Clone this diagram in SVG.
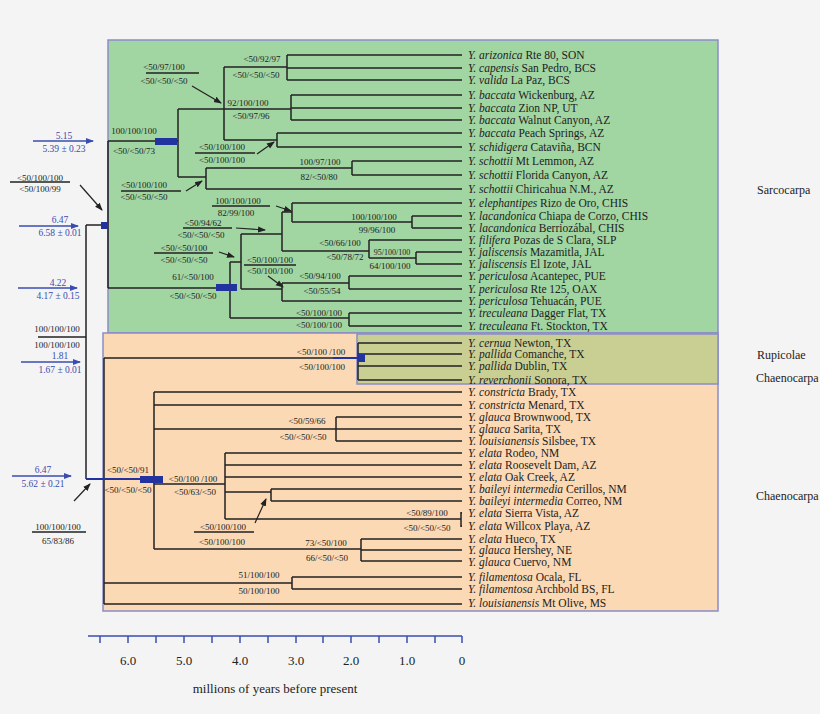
<svg xmlns="http://www.w3.org/2000/svg" width="820" height="714" viewBox="0 0 820 714">
<defs>
<style>
.t{font-family:"Liberation Serif",serif;font-size:11.5px;fill:#222}
.l{font-family:"Liberation Serif",serif;font-size:9px;fill:#222;text-anchor:middle}
.b{font-family:"Liberation Serif",serif;font-size:9.5px;fill:#3b4cb0;text-anchor:middle}
.g{font-family:"Liberation Serif",serif;font-size:13px;fill:#222}
.r{font-family:"Liberation Serif",serif;font-size:12px;fill:#222}
.e{fill:none;stroke:#222;stroke-width:1.5}
.u{stroke:#222;stroke-width:1.5}
.ar{stroke:#222;stroke-width:1.2;marker-end:url(#ak)}
.ba{stroke:#3b4cb0;stroke-width:1.3;marker-end:url(#ab)}
.bx{fill:#2233a0}
</style>
<marker id="ak" markerWidth="8" markerHeight="8" refX="7" refY="4" orient="auto" markerUnits="userSpaceOnUse"><path d="M0,1 L8,4 L0,7 Z" fill="#222"/></marker>
<marker id="ab" markerWidth="8" markerHeight="8" refX="7" refY="4" orient="auto" markerUnits="userSpaceOnUse"><path d="M0,1 L8,4 L0,7 Z" fill="#3b4cb0"/></marker>
</defs>
<rect width="820" height="714" fill="#f4f4f4"/>
<g id="boxes">
<rect x="108" y="40" width="610" height="293" fill="#a1d5a2" stroke="#8c8cc8" stroke-width="1.5"/>
<rect x="103" y="333" width="615" height="278" fill="#fbd9b5" stroke="#8c8cc8" stroke-width="1.5"/>
<rect x="357" y="334" width="361" height="50" fill="#c9cf93" stroke="#8c8cc8" stroke-width="1.5"/>
</g>
<g id="connectors">
<path class="e" d="M86,225 V479 M86,225 H108 M108,141 V288 M108,141 H178 M178,109 V177 M178,109 H291 M224,67 V140 M224,67 H287 M287,55 V80 M287,55 H462 M287,68 H462 M287,80 H462
M291,95 V120 M291,95 H462 M291,108 H462 M291,120 H462 M224,140 H277 M277,133 V147 M277,133 H462 M277,147 H462
M178,177 H206 M206,168 V189 M206,189 H462 M206,168 H352 M352,161 V175 M352,161 H462 M352,175 H462
M108,288 H230 M230,262 V318 M230,262 H241 M241,234 V289 M241,234 H282 M282,212 V251 M282,212 H292 M292,203 V222 M292,203 H462 M292,222 H412 M412,216 V228 M412,216 H462 M412,228 H462
M282,251 H369 M369,240 V258 M369,240 H462 M369,258 H416 M416,252 V264 M416,252 H462 M416,264 H462
M241,289 H282 M282,283 V301 M282,283 H349 M349,276 V289 M349,276 H462 M349,289 H462 M282,301 H462
M230,318 H349 M349,313 V326 M349,313 H462 M349,326 H462
M86,479 H104 M104,358 V604 M104,358 H358 M358,343 V380 M358,343 H462 M358,354 H462 M358,366 H462 M358,380 H462
M104,479 H154 M154,392 V549 M154,392 H462 M154,405 H462 M154,429 H336 M336,417 V441 M336,417 H462 M336,429 H462 M336,441 H462
M154,484 H225 M225,453 V519 M225,453 H462 M225,465 H462 M225,477 H462 M225,492 H271 M271,489 V501 M271,489 H462 M271,501 H462 M225,519 H461 M461,512 V527 M461,513 H462 M461,526 H462
M154,549 H361 M361,539 V561 M361,539 H462 M361,550 H462 M361,561 H462
M104,583 H292 M292,577 V589 M292,577 H462 M292,589 H462 M104,604 H462"/>
<path d="M86,479 H140 M333,358 H358" stroke="#2233a0" stroke-width="2"/>
<rect class="bx" x="155" y="138" width="22" height="7"/>
<rect class="bx" x="216" y="284" width="21" height="7"/>
<rect class="bx" x="101" y="222" width="7" height="7"/>
<rect class="bx" x="140" y="476" width="23" height="7"/>
<rect class="bx" x="358" y="354" width="7" height="8"/>
<path class="u" d="M146,73 H199 M195,153 H255 M121,191 H181 M212,206 H270 M183,228 H232 M154,253 H213 M244,265 H296 M10,182 H70 M38,337 H86 M32,532 H86 M194,532 H254"/>
<line class="ar" x1="192" y1="86" x2="221" y2="103"/>
<line class="ar" x1="257" y1="154" x2="274" y2="142"/>
<line class="ar" x1="186" y1="191" x2="202" y2="181"/>
<line class="ar" x1="276" y1="206" x2="291" y2="211"/>
<line class="ar" x1="236" y1="228" x2="265" y2="230"/>
<line class="ar" x1="219" y1="252" x2="234" y2="257"/>
<line class="ar" x1="268" y1="276" x2="283" y2="287"/>
<line class="ar" x1="80" y1="185" x2="102" y2="210"/>
<line class="ar" x1="74" y1="501" x2="90" y2="484"/>
<line class="ar" x1="255" y1="523" x2="266" y2="499"/>
<line class="ba" x1="33" y1="141" x2="93" y2="141"/>
<line class="ba" x1="19" y1="226" x2="78" y2="226"/>
<line class="ba" x1="18" y1="288" x2="77" y2="288"/>
<line class="ba" x1="21" y1="362" x2="80" y2="362"/>
<line class="ba" x1="12" y1="476" x2="71" y2="476"/>
</g>
<g id="labels">
<text class="l" x="262" y="62">&lt;50/92/97</text><text class="l" x="256" y="78">&lt;50/&lt;50/&lt;50</text>
<text class="l" x="164" y="70">&lt;50/97/100</text><text class="l" x="164" y="84">&lt;50/&lt;50/&lt;50</text>
<text class="l" x="248" y="106">92/100/100</text><text class="l" x="251" y="119">&lt;50/97/96</text>
<text class="l" x="134" y="134">100/100/100</text><text class="l" x="134" y="154">&lt;50/&lt;50/73</text>
<text class="l" x="222" y="150">&lt;50/100/100</text><text class="l" x="222" y="163">&lt;50/100/100</text>
<text class="l" x="320" y="165">100/97/100</text><text class="l" x="319" y="180">82/&lt;50/80</text>
<text class="l" x="144" y="188">&lt;50/100/100</text><text class="l" x="144" y="200">&lt;50/&lt;50/&lt;50</text>
<text class="l" x="238" y="204">100/100/100</text><text class="l" x="236" y="216">82/99/100</text>
<text class="l" x="374" y="220">100/100/100</text><text class="l" x="377" y="233">99/96/100</text>
<text class="l" x="203" y="226">&lt;50/94/62</text><text class="l" x="201" y="238">&lt;50/&lt;50/&lt;50</text>
<text class="l" x="184" y="251">&lt;50/&lt;50/100</text><text class="l" x="184" y="263">&lt;50/&lt;50/&lt;50</text>
<text class="l" x="340" y="246">&lt;50/66/100</text><text class="l" x="345" y="260">&lt;50/78/72</text>
<text class="l" x="392" y="255" style="font-size:8px">95/100/100</text><text class="l" x="390" y="269">64/100/100</text>
<text class="l" x="270" y="263">&lt;50/100/100</text><text class="l" x="270" y="274">&lt;50/100/100</text>
<text class="l" x="193" y="280">61/&lt;50/100</text><text class="l" x="193" y="299">&lt;50/&lt;50/&lt;50</text>
<text class="l" x="320" y="279">&lt;50/94/100</text><text class="l" x="322" y="294">&lt;50/55/54</text>
<text class="l" x="319" y="316">&lt;50/100/100</text><text class="l" x="319" y="328">&lt;50/100/100</text>
<text class="l" x="321" y="355">&lt;50/100 /100</text><text class="l" x="322" y="370">&lt;50/100/100</text>
<text class="l" x="307" y="424">&lt;50/59/66</text><text class="l" x="303" y="440">&lt;50/&lt;50/&lt;50</text>
<text class="l" x="128" y="473">&lt;50/&lt;50/91</text><text class="l" x="128" y="493">&lt;50/&lt;50/&lt;50</text>
<text class="l" x="193" y="482">&lt;50/100 /100</text><text class="l" x="195" y="495">&lt;50/63/&lt;50</text>
<text class="l" x="223" y="530">&lt;50/100/100</text><text class="l" x="222" y="545">&lt;50/100/100</text>
<text class="l" x="427" y="516">&lt;50/89/100</text><text class="l" x="427" y="531">&lt;50/&lt;50/&lt;50</text>
<text class="l" x="326" y="546">73/&lt;50/100</text><text class="l" x="327" y="561">66/&lt;50/&lt;50</text>
<text class="l" x="259" y="578">51/100/100</text><text class="l" x="259" y="594">50/100/100</text>
<text class="l" x="40" y="181">&lt;50/100/100</text><text class="l" x="40" y="192">&lt;50/100/99</text>
<text class="l" x="57" y="332">100/100/100</text><text class="l" x="57" y="348">100/100/100</text>
<text class="l" x="58" y="530">100/100/100</text><text class="l" x="58" y="544">65/83/86</text>
<text class="b" x="64" y="139">5.15</text><text class="b" x="64" y="152">5.39 ± 0.23</text>
<text class="b" x="60" y="223">6.47</text><text class="b" x="60" y="236">6.58 ± 0.01</text>
<text class="b" x="58" y="286">4.22</text><text class="b" x="58" y="299">4.17 ± 0.15</text>
<text class="b" x="60" y="359">1.81</text><text class="b" x="60" y="373">1.67 ± 0.01</text>
<text class="b" x="43" y="473">6.47</text><text class="b" x="43" y="487">5.62 ± 0.21</text>
<text class="r" x="757" y="194">Sarcocarpa</text>
<text class="r" x="757" y="359">Rupicolae</text>
<text class="r" x="756" y="382">Chaenocarpa</text>
<text class="r" x="756" y="500">Chaenocarpa</text>
</g>
<g id="tips" class="t">
<text x="468" y="59"><tspan font-style="italic">Y. arizonica</tspan> Rte 80, SON</text>
<text x="468" y="72"><tspan font-style="italic">Y. capensis</tspan> San Pedro, BCS</text>
<text x="468" y="84"><tspan font-style="italic">Y. valida</tspan> La Paz, BCS</text>
<text x="468" y="99"><tspan font-style="italic">Y. baccata</tspan> Wickenburg, AZ</text>
<text x="468" y="112"><tspan font-style="italic">Y. baccata</tspan> Zion NP, UT</text>
<text x="468" y="124"><tspan font-style="italic">Y. baccata</tspan> Walnut Canyon, AZ</text>
<text x="468" y="137"><tspan font-style="italic">Y. baccata</tspan> Peach Springs, AZ</text>
<text x="468" y="151"><tspan font-style="italic">Y. schidigera</tspan> Cataviña, BCN</text>
<text x="468" y="165"><tspan font-style="italic">Y. schottii</tspan> Mt Lemmon, AZ</text>
<text x="468" y="179"><tspan font-style="italic">Y. schottii</tspan> Florida Canyon, AZ</text>
<text x="468" y="193"><tspan font-style="italic">Y. schottii</tspan> Chiricahua N.M., AZ</text>
<text x="468" y="207"><tspan font-style="italic">Y. elephantipes</tspan> Rizo de Oro, CHIS</text>
<text x="468" y="220"><tspan font-style="italic">Y. lacandonica</tspan> Chiapa de Corzo, CHIS</text>
<text x="468" y="232"><tspan font-style="italic">Y. lacandonica</tspan> Berriozábal, CHIS</text>
<text x="468" y="244"><tspan font-style="italic">Y. filifera</tspan> Pozas de S Clara, SLP</text>
<text x="468" y="256"><tspan font-style="italic">Y. jaliscensis</tspan> Mazamitla, JAL</text>
<text x="468" y="268"><tspan font-style="italic">Y. jaliscensis</tspan> El Izote, JAL</text>
<text x="468" y="280"><tspan font-style="italic">Y. periculosa</tspan> Acantepec, PUE</text>
<text x="468" y="293"><tspan font-style="italic">Y. periculosa</tspan> Rte 125, OAX</text>
<text x="468" y="305"><tspan font-style="italic">Y. periculosa</tspan> Tehuacán, PUE</text>
<text x="468" y="317"><tspan font-style="italic">Y. treculeana</tspan> Dagger Flat, TX</text>
<text x="468" y="330"><tspan font-style="italic">Y. treculeana</tspan> Ft. Stockton, TX</text>
<text x="468" y="347"><tspan font-style="italic">Y. cernua</tspan> Newton, TX</text>
<text x="468" y="358"><tspan font-style="italic">Y. pallida</tspan> Comanche, TX</text>
<text x="468" y="370"><tspan font-style="italic">Y. pallida</tspan> Dublin, TX</text>
<text x="468" y="384"><tspan font-style="italic">Y. reverchonii</tspan> Sonora, TX</text>
<text x="468" y="396"><tspan font-style="italic">Y. constricta</tspan> Brady, TX</text>
<text x="468" y="409"><tspan font-style="italic">Y. constricta</tspan> Menard, TX</text>
<text x="468" y="421"><tspan font-style="italic">Y. glauca</tspan> Brownwood, TX</text>
<text x="468" y="433"><tspan font-style="italic">Y. glauca</tspan> Sarita, TX</text>
<text x="468" y="445"><tspan font-style="italic">Y. louisianensis</tspan> Silsbee, TX</text>
<text x="468" y="457"><tspan font-style="italic">Y. elata</tspan> Rodeo, NM</text>
<text x="468" y="469"><tspan font-style="italic">Y. elata</tspan> Roosevelt Dam, AZ</text>
<text x="468" y="481"><tspan font-style="italic">Y. elata</tspan> Oak Creek, AZ</text>
<text x="468" y="493"><tspan font-style="italic">Y. baileyi intermedia</tspan> Cerillos, NM</text>
<text x="468" y="505"><tspan font-style="italic">Y. baileyi intermedia</tspan> Correo, NM</text>
<text x="468" y="517"><tspan font-style="italic">Y. elata</tspan> Sierra Vista, AZ</text>
<text x="468" y="530"><tspan font-style="italic">Y. elata</tspan> Willcox Playa, AZ</text>
<text x="468" y="543"><tspan font-style="italic">Y. elata</tspan> Hueco, TX</text>
<text x="468" y="554"><tspan font-style="italic">Y. glauca</tspan> Hershey, NE</text>
<text x="468" y="566"><tspan font-style="italic">Y. glauca</tspan> Cuervo, NM</text>
<text x="468" y="581"><tspan font-style="italic">Y. filamentosa</tspan> Ocala, FL</text>
<text x="468" y="593"><tspan font-style="italic">Y. filamentosa</tspan> Archbold BS, FL</text>
<text x="468" y="607"><tspan font-style="italic">Y. louisianensis</tspan> Mt Olive, MS</text>
</g>
<g id="axis">
<path d="M88,636 H462 M100,636 V643 M128,636 V643 M156,636 V643 M184,636 V643 M212,636 V643 M240,636 V643 M268,636 V643 M296,636 V643 M323,636 V643 M351,636 V643 M379,636 V643 M407,636 V643 M435,636 V643 M462,636 V643" stroke="#3b4cb0" stroke-width="1.5" fill="none"/>
<g class="g" text-anchor="middle">
<text x="128" y="665">6.0</text><text x="184" y="665">5.0</text><text x="240" y="665">4.0</text><text x="296" y="665">3.0</text><text x="351" y="665">2.0</text><text x="407" y="665">1.0</text><text x="462" y="665">0</text>
<text x="275" y="693">millions of years before present</text>
</g>
</g>
</svg>
